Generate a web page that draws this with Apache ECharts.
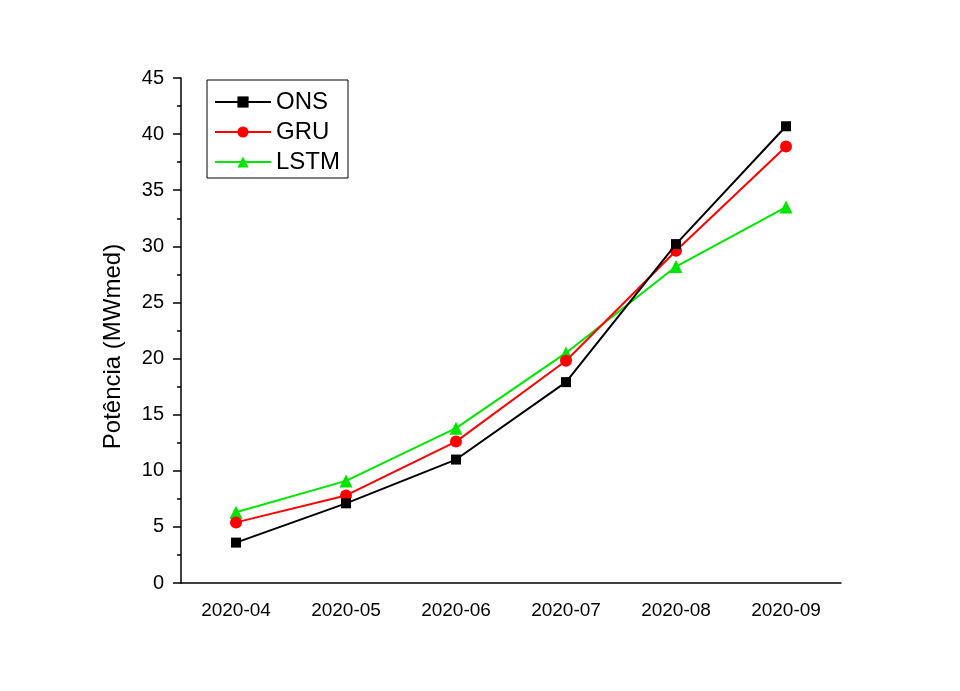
<!DOCTYPE html>
<html>
<head>
<meta charset="utf-8">
<script src="https://cdn.jsdelivr.net/npm/echarts@6/dist/echarts.min.js"></script>
<style>
  html, body { margin: 0; padding: 0; background: #fff; }
  #chart { width: 960px; height: 691px; }
</style>
</head>
<body>
<div id="chart"></div>
<script>
// categorias (meses)
const months = ['2020-04', '2020-05', '2020-06', '2020-07', '2020-08', '2020-09']
// séries
const ons = [3.6, 7.1, 11.0, 17.9, 30.2, 40.7]
const gru = [5.4, 7.8, 12.6, 19.8, 29.6, 38.9]
const lstm = [6.3, 9.1, 13.8, 20.5, 28.2, 33.5]

const chart = echarts.init(document.getElementById('chart'))

const axisText = { color: '#000', fontFamily: 'Liberation Sans, Arial' }

chart.setOption({
  backgroundColor: '#fff',
  animation: false,
  grid: { left: 181, right: 119, top: 78, bottom: 108 },
  legend: {
    left: 207,
    top: 80,
    orient: 'vertical',
    itemWidth: 56,
    itemHeight: 14,
    itemGap: 6,
    padding: [10, 8, 4, 7],
    borderColor: '#000',
    borderWidth: 1,
    textStyle: { color: '#000', fontFamily: 'Liberation Sans, Arial', fontSize: 24 },
    data: ['ONS', 'GRU', 'LSTM']
  },
  xAxis: [
    {
      type: 'category',
      data: months,
      axisLine: { lineStyle: { color: '#000', width: 1.5 } },
      axisTick: { alignWithLabel: true, length: 7, lineStyle: { color: '#000', width: 1.5 } },
      axisLabel: { ...axisText, fontSize: 19, margin: 18 }
    },
    {
      type: 'category',
      data: months,
      position: 'bottom',
      axisLine: { show: false },
      axisTick: { length: 4, lineStyle: { color: '#000', width: 1.5 } },
      axisLabel: { show: false }
    }
  ],
  yAxis: {
    type: 'value',
    min: 0,
    max: 45,
    interval: 5,
    name: 'Potência (MWmed)',
    nameLocation: 'middle',
    nameGap: 56,
    nameTextStyle: { color: '#000', fontFamily: 'Liberation Sans, Arial', fontSize: 24, padding: [0, 32, 0, 0] },
    axisLine: { show: true, lineStyle: { color: '#000', width: 1.5 } },
    axisTick: { show: true, length: 8, lineStyle: { color: '#000', width: 1.5 } },
    minorTick: { show: true, splitNumber: 2, length: 4, lineStyle: { color: '#000', width: 1.5 } },
    splitLine: { show: false },
    axisLabel: { ...axisText, fontSize: 20, margin: 17 }
  },
  series: [
    {
      name: 'ONS',
      type: 'line',
      data: ons,
      symbol: 'rect',
      symbolSize: 10,
      itemStyle: { color: '#000' },
      lineStyle: { color: '#000', width: 2 },
      z: 3
    },
    {
      name: 'GRU',
      type: 'line',
      data: gru,
      symbol: 'circle',
      symbolSize: 12,
      itemStyle: { color: '#ff0000' },
      lineStyle: { color: '#ff0000', width: 2 },
      z: 2
    },
    {
      name: 'LSTM',
      type: 'line',
      data: lstm,
      symbol: 'triangle',
      symbolSize: 13,
      itemStyle: { color: '#00e600' },
      lineStyle: { color: '#00e600', width: 2 },
      z: 1
    }
  ]
})
</script>
</body>
</html>
